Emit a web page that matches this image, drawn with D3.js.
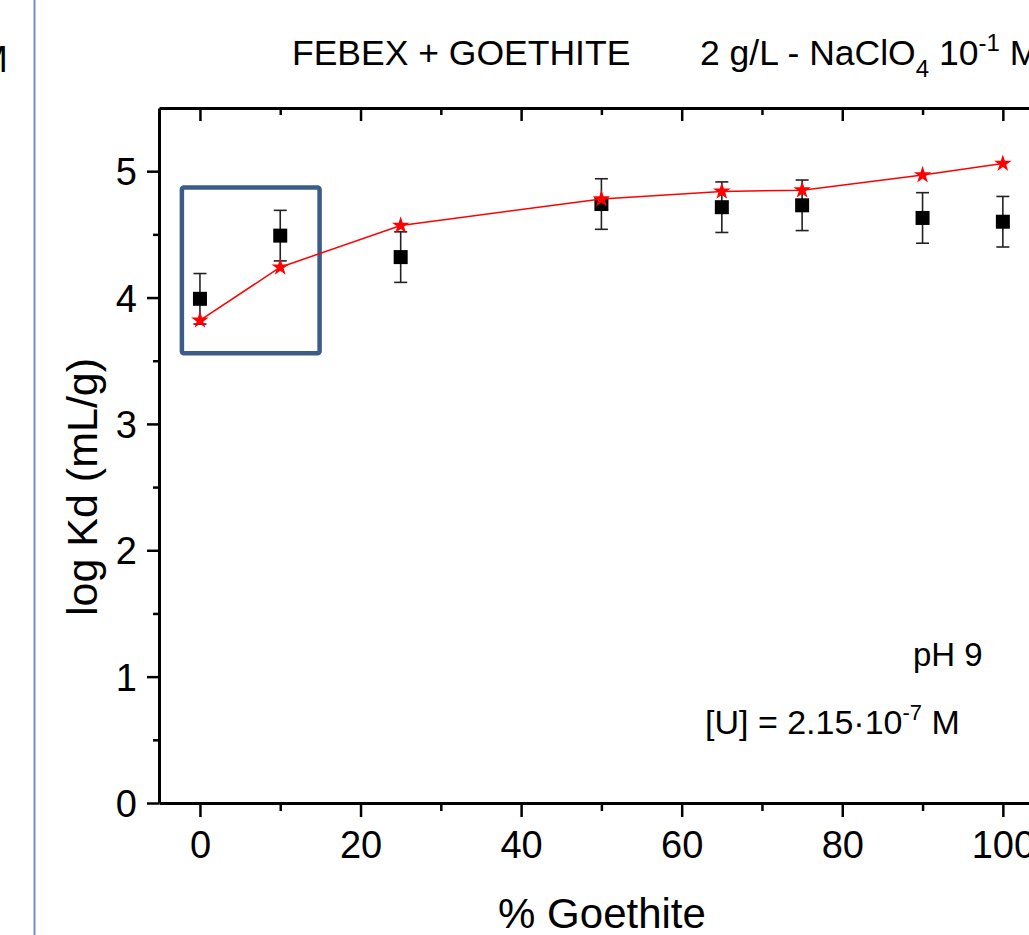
<!DOCTYPE html>
<html>
<head>
<meta charset="utf-8">
<script src="https://cdn.jsdelivr.net/npm/d3@7"></script>
<style>
  html, body { margin: 0; padding: 0; background: #fff; }
  svg { display: block; font-family: "Liberation Sans", Arial, sans-serif; }
</style>
</head>
<body>
<svg id="chart" width="1029" height="935"></svg>
<script>
// % goethite in the mixture
const goethite = [0, 10, 25, 50, 65, 75, 90, 100];
// measured log Kd (black squares) and its error
const measured = [3.99, 4.49, 4.32, 4.74, 4.715, 4.73, 4.63, 4.60];
const measuredErr = [0.2, 0.2, 0.2, 0.2, 0.2, 0.2, 0.2, 0.2];
// calculated log Kd (red stars)
const calculated = [3.82, 4.24, 4.57, 4.78, 4.84, 4.85, 4.97, 5.06];

const xTicks = [0, 20, 40, 60, 80, 100];
const xMinor = [10, 30, 50, 70, 90];
const yTicks = [0, 1, 2, 3, 4, 5];
const yMinor = [0.5, 1.5, 2.5, 3.5, 4.5];

// highlighted region (data units)
const boxX = [-2.25, 14.9];
const boxY = [3.56, 4.87];

const svg = d3.select("#chart");

const x = d3.scaleLinear().domain([-5.1, 105]).range([159, 1043]);
const y = d3.scaleLinear().domain([0, 5.5]).range([803, 108]);

// left panel border (page edge) and a cut-off label from the neighbouring panel
svg.append("line")
  .attr("x1", 34.5).attr("x2", 34.5).attr("y1", 0).attr("y2", 935)
  .style("stroke", "#7191c2").style("stroke-width", 2);

svg.append("text")
  .attr("x", -23).attr("y", 72)
  .style("font-size", "37px")
  .text("M");

// axes
const yAxis = svg.append("g")
  .attr("transform", "translate(159,0)")
  .call(d3.axisLeft(y).tickValues(yTicks).tickSize(12).tickSizeOuter(0).tickPadding(10).tickFormat(d3.format("d")));

svg.append("g")
  .attr("transform", "translate(159,0)")
  .call(d3.axisLeft(y).tickValues(yMinor).tickSize(6).tickSizeOuter(0).tickFormat(""))
  .select(".domain").remove();

const xAxis = svg.append("g")
  .attr("transform", "translate(0,803)")
  .call(d3.axisBottom(x).tickValues(xTicks).tickSize(14).tickSizeOuter(0).tickPadding(14).tickFormat(d3.format("d")));

svg.append("g")
  .attr("transform", "translate(0,803)")
  .call(d3.axisBottom(x).tickValues(xMinor).tickSize(8).tickSizeOuter(0).tickFormat(""))
  .select(".domain").remove();

svg.append("g")
  .attr("transform", "translate(0,108)")
  .call(d3.axisTop(x).tickValues(xTicks).tickSize(-13).tickSizeOuter(0).tickFormat(""));

svg.append("g")
  .attr("transform", "translate(0,108)")
  .call(d3.axisTop(x).tickValues(xMinor).tickSize(-7).tickSizeOuter(0).tickFormat(""))
  .select(".domain").remove();

svg.selectAll(".domain").style("stroke", "#000").style("stroke-width", 3);
svg.selectAll(".tick line").style("stroke", "#000").style("stroke-width", 2.5);
svg.selectAll(".tick text")
  .style("font-family", "'Liberation Sans', Arial, sans-serif")
  .style("font-size", "38px")
  .style("fill", "#000");
yAxis.selectAll(".tick text").attr("dy", "0.36em");

// axis titles
svg.append("text")
  .attr("transform", "translate(97,487) rotate(-90)")
  .attr("text-anchor", "middle")
  .style("font-size", "43px")
  .text("log Kd (mL/g)");

svg.append("text")
  .attr("x", 602).attr("y", 928)
  .attr("text-anchor", "middle")
  .style("font-size", "42px")
  .text("% Goethite");

// titles
svg.append("text")
  .attr("x", 292).attr("y", 65)
  .style("font-size", "35.5px")
  .text("FEBEX + GOETHITE");

const t2 = svg.append("text")
  .attr("x", 700).attr("y", 65)
  .style("font-size", "35.5px");
t2.append("tspan").text("2 g/L - NaClO");
t2.append("tspan").attr("dy", 12).style("font-size", "24px").text("4");
t2.append("tspan").attr("dy", -12).text(" 10");
t2.append("tspan").attr("dy", -14).style("font-size", "24px").text("-1");
t2.append("tspan").attr("dy", 14).text(" M");

// annotations
svg.append("text")
  .attr("x", 913).attr("y", 666)
  .style("font-size", "33px")
  .text("pH 9");

const u = svg.append("text")
  .attr("x", 705).attr("y", 734)
  .style("font-size", "34px");
u.append("tspan").text("[U] = 2.15\u00b710");
u.append("tspan").attr("dy", -14).style("font-size", "22px").text("-7");
u.append("tspan").attr("dy", 14).text(" M");

// highlight box
svg.append("rect")
  .attr("x", x(boxX[0])).attr("y", y(boxY[1]))
  .attr("width", x(boxX[1]) - x(boxX[0]))
  .attr("height", y(boxY[0]) - y(boxY[1]))
  .attr("rx", 2)
  .style("fill", "none")
  .style("stroke", "#3b5c8b")
  .style("stroke-width", 4.5);

// error bars
const pts = goethite.map((g, i) => ({ g, m: measured[i], e: measuredErr[i], c: calculated[i] }));
const capW = 6.5;

const eb = svg.append("g").style("stroke", "#222").style("stroke-width", 1.6);
eb.selectAll("line.stem").data(pts).enter().append("line")
  .attr("x1", d => x(d.g)).attr("x2", d => x(d.g))
  .attr("y1", d => y(d.m + d.e)).attr("y2", d => y(d.m - d.e));
eb.selectAll("line.top").data(pts).enter().append("line")
  .attr("x1", d => x(d.g) - capW).attr("x2", d => x(d.g) + capW)
  .attr("y1", d => y(d.m + d.e)).attr("y2", d => y(d.m + d.e));
eb.selectAll("line.bot").data(pts).enter().append("line")
  .attr("x1", d => x(d.g) - capW).attr("x2", d => x(d.g) + capW)
  .attr("y1", d => y(d.m - d.e)).attr("y2", d => y(d.m - d.e));

// measured squares
const sq = 14;
svg.selectAll("rect.sq").data(pts).enter().append("rect")
  .attr("class", "sq")
  .attr("x", d => x(d.g) - sq / 2).attr("y", d => y(d.m) - sq / 2)
  .attr("width", sq).attr("height", sq)
  .style("fill", "#000");

// calculated line + stars
svg.append("path")
  .datum(pts)
  .attr("d", d3.line().x(d => x(d.g)).y(d => y(d.c)))
  .style("fill", "none")
  .style("stroke", "#ff0000")
  .style("stroke-width", 1.5);

svg.selectAll("path.star").data(pts).enter().append("path")
  .attr("class", "star")
  .attr("transform", d => `translate(${x(d.g)},${y(d.c)})`)
  .attr("d", d3.symbol().type(d3.symbolStar).size(95))
  .style("fill", "#ff0000");
</script>
</body>
</html>
